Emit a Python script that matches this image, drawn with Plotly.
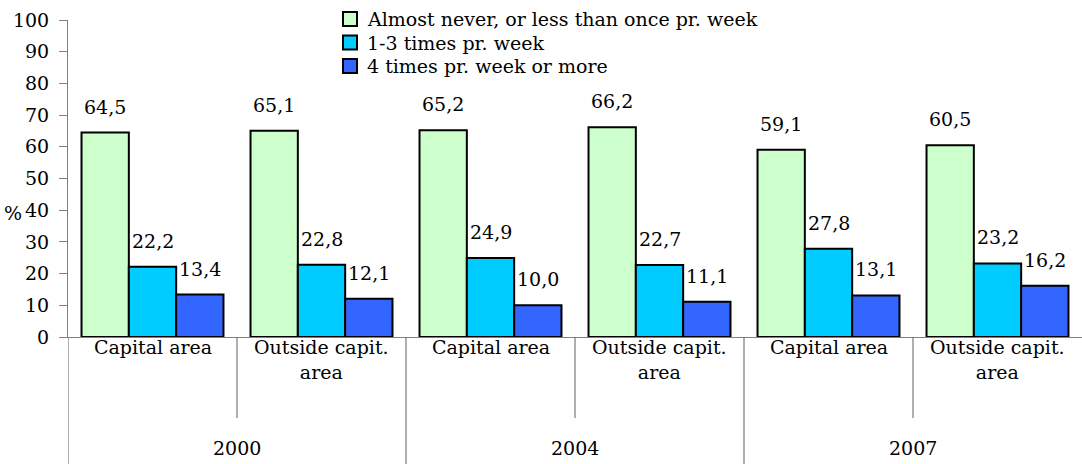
import plotly.graph_objects as go

# Data
years = ["2000", "2004", "2007"]
areas = ["Capital area", "Outside capit.<br>area"]
categories = ["2000 Capital", "2000 Outside", "2004 Capital", "2004 Outside", "2007 Capital", "2007 Outside"]
series_names = ["Almost never, or less than once pr. week", "1-3 times pr. week", "4 times pr. week or more"]
almost_never = [64.5, 65.1, 65.2, 66.2, 59.1, 60.5]
one_to_three = [22.2, 22.8, 24.9, 22.7, 27.8, 23.2]
four_or_more = [13.4, 12.1, 10.0, 11.1, 13.1, 16.2]
y_ticks = list(range(0, 101, 10))

colors = ["#CCFFCC", "#00CCFF", "#3366FF"]
series_values = [almost_never, one_to_three, four_or_more]

FONT = "DejaVu Serif"
W, H = 1082, 464
ML, MR, MT, MB = 68, 0, 20, 127
plot_w = W - ML - MR
plot_h = H - MT - MB
cat_w = plot_w / len(categories)
bargap = 0.16
bar_w = cat_w * (1 - bargap) / 3


def px_x(px):
    return (px - ML) / plot_w


def px_y(py):
    return (H - MB - py) / plot_h


def tfont(size=19):
    return dict(family=FONT, size=size, color="black")


fig = go.Figure()
for name, vals, col in zip(series_names, series_values, colors):
    fig.add_trace(go.Bar(
        x=categories, y=vals, name=name, showlegend=False,
        marker=dict(color=col, line=dict(color="black", width=2)),
    ))

# Value labels above each bar
annotations = []
for k, vals in enumerate(series_values):
    for cat, v in zip(categories, vals):
        annotations.append(dict(
            x=cat, y=v, xref="x", yref="y",
            text=f"{v:.1f}".replace(".", ","),
            showarrow=False, xshift=(k - 1) * bar_w, yshift=26,
            yanchor="middle", xanchor="center", font=tfont(),
        ))

# Area labels under each category
for i, cat in enumerate(categories):
    annotations.append(dict(
        x=cat, y=0, xref="x", yref="paper",
        text=areas[i % 2], showarrow=False, yanchor="top", yshift=3,
        align="center", font=tfont(),
    ))

# Year labels under each pair
for j, yr in enumerate(years):
    annotations.append(dict(
        x=2 * j + 0.5, y=0, xref="x", yref="paper",
        text=yr, showarrow=False, yanchor="middle", yshift=-111,
        font=tfont(),
    ))

# Y axis title
annotations.append(dict(
    x=px_x(13), y=px_y(213), xref="paper", yref="paper",
    text="%", showarrow=False, xanchor="center", yanchor="middle",
    font=tfont(),
))

# Divider lines in the category axis area
shapes = []
for b in range(6):
    long_line = (b % 2 == 0)
    shapes.append(dict(
        type="line", xref="x", yref="paper",
        x0=b - 0.5, x1=b - 0.5, y0=0,
        y1=-(127 if long_line else 81) / plot_h,
        line=dict(color="#606060", width=1),
    ))

# Legend: boxed colour keys with labels
leg_x, leg_y0, leg_dy, box = 343, 19, 23.5, 14
for k, (name, col) in enumerate(zip(series_names, colors)):
    cy = leg_y0 + k * leg_dy
    shapes.append(dict(
        type="rect", xref="paper", yref="paper",
        x0=px_x(leg_x), x1=px_x(leg_x + box),
        y0=px_y(cy + box / 2), y1=px_y(cy - box / 2),
        fillcolor=col, line=dict(color="black", width=2),
    ))
    annotations.append(dict(
        x=px_x(leg_x + box + 8), y=px_y(cy), xref="paper", yref="paper",
        text=name, showarrow=False, xanchor="left", yanchor="middle",
        font=tfont(),
    ))

fig.update_layout(
    width=W, height=H,
    margin=dict(l=ML, r=MR, t=MT, b=MB, pad=0),
    paper_bgcolor="white", plot_bgcolor="white",
    barmode="group", bargap=bargap, bargroupgap=0,
    font=tfont(),
    showlegend=False,
    xaxis=dict(
        type="category", showticklabels=False, ticks="",
        showline=True, linecolor="#808080", linewidth=1,
        showgrid=False, zeroline=False, range=[-0.5, 5.5],
    ),
    yaxis=dict(
        range=[0, 100], tickvals=y_ticks, ticks="outside", ticklen=8,
        tickcolor="#808080", showline=True, linecolor="#808080", linewidth=1,
        showgrid=False, zeroline=False, ticklabelstandoff=6,
        tickfont=tfont(),
    ),
    annotations=annotations,
    shapes=shapes,
)

fig.write_html("out.html")
